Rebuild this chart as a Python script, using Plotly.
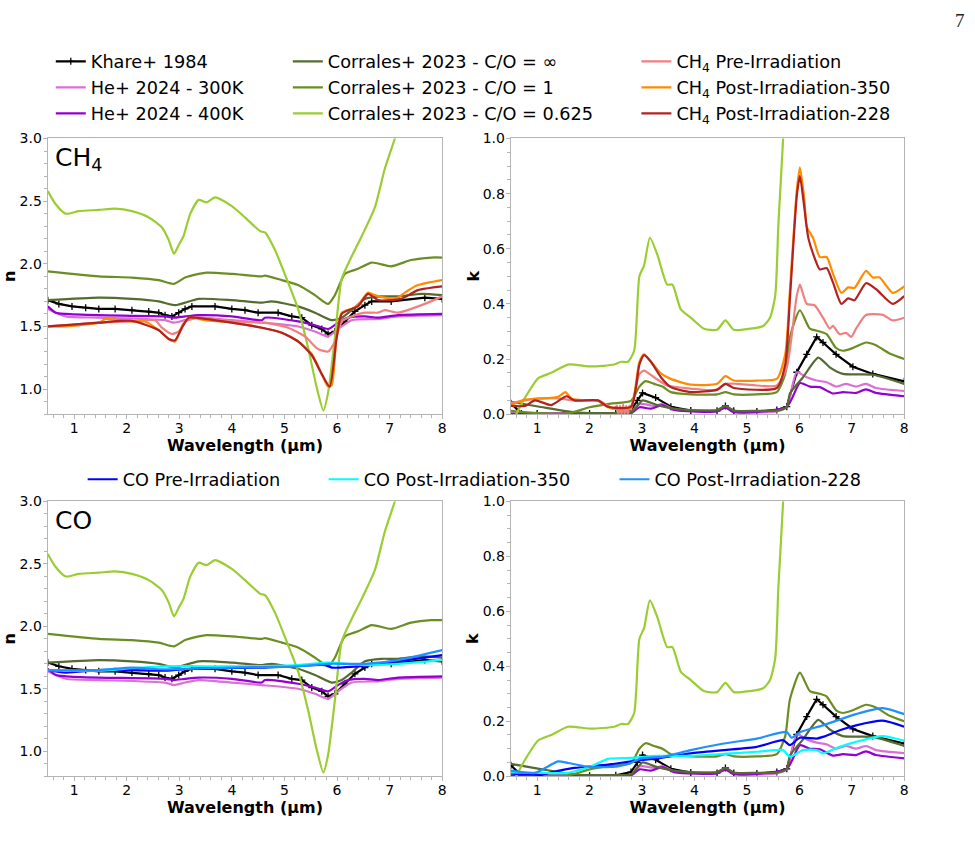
import plotly.graph_objects as go

# ---------------- data ----------------
# Khare+ 1984
khare_n_wl = [0.5,0.71,0.96,1.22,1.47,1.78,2.10,2.42,2.61,2.73,2.86,2.99,3.11,3.24,3.68,4.00,4.25,4.50,4.88,5.14,5.33,5.52,5.71,5.83,5.96,6.15,6.34,6.53,6.66,7.03,7.67,8.0]
khare_n = [1.71,1.68,1.66,1.65,1.64,1.64,1.63,1.62,1.61,1.59,1.58,1.61,1.64,1.66,1.66,1.64,1.63,1.61,1.61,1.58,1.57,1.51,1.48,1.44,1.46,1.54,1.62,1.67,1.70,1.70,1.73,1.72]
khare_k_wl = [0.5,0.7,1.0,1.5,2.0,2.5,2.79,2.91,3.01,3.26,3.55,3.93,4.43,4.59,4.75,5.19,5.57,5.76,5.95,6.14,6.33,6.45,6.70,7.02,7.40,8.0]
khare_k = [0.04,0.002,0.002,0.002,0.002,0.003,0.015,0.05,0.077,0.06,0.027,0.013,0.012,0.03,0.012,0.01,0.015,0.027,0.152,0.217,0.28,0.26,0.217,0.172,0.146,0.119]

# He+ 2024
he300_n_wl = [0.5,0.84,1.47,2.73,2.90,3.11,3.37,4.0,4.57,5.26,5.58,5.83,6.02,6.28,6.78,7.16,8.0]
he300_n = [1.64,1.58,1.57,1.55,1.53,1.55,1.57,1.55,1.53,1.50,1.46,1.42,1.48,1.55,1.56,1.58,1.59]
he400_n_wl = [0.5,0.65,0.84,1.47,2.73,2.90,3.11,3.37,4.0,4.57,4.63,5.26,5.58,5.83,6.02,6.21,6.53,6.78,7.16,8.0]
he400_n = [1.66,1.61,1.60,1.59,1.58,1.57,1.58,1.59,1.58,1.55,1.57,1.54,1.51,1.48,1.53,1.57,1.58,1.57,1.59,1.60]
he300_k_wl = [0.5,1.0,2.0,2.79,2.91,3.01,3.23,3.39,3.61,4.43,4.59,4.75,5.57,5.76,5.95,6.14,6.33,6.52,6.70,6.89,7.08,7.27,7.46,8.0]
he300_k = [0.003,0.003,0.003,0.005,0.033,0.037,0.03,0.037,0.018,0.013,0.027,0.01,0.01,0.027,0.152,0.134,0.122,0.116,0.10,0.11,0.10,0.11,0.095,0.084]
he400_k_wl = [0.5,1.0,2.0,2.79,2.95,3.17,3.39,3.61,4.43,4.59,4.75,5.76,6.01,6.20,6.39,6.64,6.83,7.08,7.27,7.46,8.0]
he400_k = [0.001,0.001,0.001,0.003,0.025,0.02,0.033,0.015,0.01,0.024,0.007,0.027,0.113,0.10,0.098,0.075,0.08,0.077,0.09,0.077,0.065]

# Corrales+ 2023
cinf_n_wl = [0.5,1.47,2.10,2.61,2.92,3.37,4.0,4.57,4.76,5.26,5.58,5.90,6.09,6.28,6.53,6.84,7.16,7.60,8.0]
cinf_n = [1.71,1.73,1.72,1.70,1.67,1.72,1.71,1.69,1.70,1.66,1.61,1.55,1.57,1.63,1.72,1.74,1.74,1.76,1.75]
c1_n_wl = [0.5,1.47,2.10,2.61,2.90,3.11,3.37,3.52,4.0,4.57,4.63,4.95,5.26,5.58,5.83,5.96,6.15,6.40,6.66,7.03,7.41,7.79,8.0]
c1_n = [1.94,1.90,1.89,1.87,1.84,1.89,1.92,1.93,1.92,1.90,1.905,1.87,1.83,1.75,1.68,1.75,1.92,1.96,2.01,1.98,2.03,2.05,2.05]
c0625_n_wl = [0.5,0.65,0.84,1.09,1.47,1.78,2.10,2.42,2.67,2.80,2.90,2.99,3.08,3.21,3.37,3.52,3.68,4.00,4.25,4.54,4.63,4.82,5.07,5.26,5.45,5.61,5.74,5.83,5.96,6.09,6.28,6.47,6.72,6.91,7.10,7.4,8.0]
c0625_n = [2.58,2.475,2.40,2.42,2.43,2.44,2.42,2.37,2.29,2.19,2.08,2.15,2.22,2.40,2.51,2.49,2.53,2.46,2.37,2.26,2.25,2.11,1.85,1.64,1.33,1.02,0.83,0.97,1.41,1.88,2.06,2.22,2.45,2.76,3.0,3.4,4.2]
cinf_k_wl = [0.5,1.07,1.64,2.0,2.5,2.79,2.91,3.01,3.29,3.61,3.93,4.43,4.59,4.75,5.19,5.57,5.76,5.82,6.07,6.36,6.58,6.83,7.40,8.0]
cinf_k = [0.045,0.026,0.008,0.004,0.004,0.006,0.03,0.05,0.033,0.02,0.015,0.015,0.03,0.013,0.012,0.013,0.025,0.075,0.134,0.205,0.17,0.146,0.143,0.11]
c1_k_wl = [0.5,1.0,1.6,2.0,2.4,2.79,2.95,3.07,3.23,3.39,3.55,3.93,4.43,4.59,4.75,5.19,5.57,5.73,5.82,6.01,6.20,6.39,6.52,6.70,6.83,7.02,7.27,7.46,7.72,8.0]
c1_k = [0.012,0.004,0.003,0.025,0.038,0.048,0.10,0.12,0.11,0.10,0.08,0.072,0.072,0.08,0.072,0.072,0.08,0.146,0.28,0.377,0.31,0.30,0.29,0.24,0.23,0.24,0.26,0.25,0.22,0.20]
c0625_k_wl = [0.6,0.77,1.02,1.27,1.59,2.03,2.47,2.60,2.73,2.85,2.95,3.04,3.15,3.29,3.48,3.58,3.74,3.93,4.18,4.43,4.59,4.75,5.06,5.31,5.44,5.54,5.60,5.69,5.8,6.0]
c0625_k = [0.0,0.06,0.13,0.15,0.18,0.173,0.18,0.19,0.19,0.23,0.50,0.54,0.64,0.58,0.47,0.47,0.38,0.35,0.31,0.306,0.34,0.306,0.31,0.32,0.35,0.43,0.69,1.0,1.6,2.5]

# CH4 (this work)
ch4pre_n_wl = [0.5,0.84,1.47,2.10,2.54,2.67,2.86,2.99,3.11,3.37,4.0,4.63,5.07,5.39,5.64,5.83,5.96,6.09,6.28,6.53,6.78,6.91,7.16,7.67,8.0]
ch4pre_n = [1.50,1.51,1.53,1.54,1.55,1.49,1.44,1.46,1.54,1.57,1.54,1.53,1.49,1.42,1.32,1.30,1.38,1.54,1.58,1.61,1.61,1.63,1.61,1.68,1.74]
ch4p350_n_wl = [0.5,0.84,1.47,1.60,2.10,2.35,2.61,2.80,2.92,3.05,3.18,3.49,4.0,4.57,4.95,5.26,5.52,5.71,5.83,5.90,5.99,6.09,6.28,6.40,6.59,6.72,6.91,7.16,7.29,7.54,8.0]
ch4p350_n = [1.50,1.50,1.53,1.56,1.54,1.54,1.47,1.40,1.38,1.49,1.57,1.55,1.53,1.49,1.45,1.38,1.28,1.12,1.02,1.03,1.41,1.61,1.64,1.67,1.77,1.75,1.73,1.73,1.77,1.83,1.87]
ch4p228_n_wl = [0.5,0.84,1.47,2.10,2.61,2.80,2.92,3.05,3.18,3.49,4.0,4.57,4.95,5.26,5.52,5.71,5.86,5.99,6.09,6.28,6.40,6.59,6.78,7.03,7.22,7.54,8.0]
ch4p228_n = [1.50,1.51,1.53,1.545,1.47,1.40,1.39,1.49,1.57,1.56,1.53,1.49,1.45,1.38,1.27,1.12,1.02,1.40,1.60,1.64,1.66,1.76,1.71,1.71,1.72,1.79,1.82]
ch4pre_k_wl = [0.5,0.77,1.02,1.4,1.71,2.16,2.47,2.52,2.55,2.58,2.61,2.64,2.67,2.70,2.73,2.76,2.79,2.95,3.04,3.23,3.48,3.93,4.43,4.59,4.81,5.19,5.57,5.76,5.95,6.01,6.14,6.29,6.45,6.58,6.64,6.77,6.89,6.99,7.08,7.27,7.59,7.78,8.0]
ch4pre_k = [0.04,0.05,0.057,0.057,0.05,0.05,0.02,0.03,0.0,0.03,0.0,0.035,0.0,0.03,0.0,0.03,0.015,0.146,0.158,0.134,0.104,0.093,0.087,0.11,0.11,0.104,0.104,0.17,0.43,0.47,0.40,0.395,0.35,0.31,0.32,0.29,0.295,0.28,0.31,0.36,0.36,0.34,0.35]
ch4p350_k_wl = [0.5,0.77,1.15,1.40,1.54,1.65,1.90,2.16,2.35,2.54,2.79,2.95,3.04,3.17,3.36,3.55,3.93,4.43,4.59,4.75,5.19,5.57,5.73,5.82,5.95,6.01,6.10,6.14,6.26,6.39,6.52,6.64,6.80,6.93,7.05,7.27,7.40,7.53,7.78,8.0]
ch4p350_k = [0.033,0.053,0.057,0.063,0.08,0.057,0.05,0.049,0.025,0.018,0.027,0.19,0.217,0.19,0.148,0.128,0.107,0.11,0.138,0.122,0.122,0.128,0.217,0.45,0.81,0.895,0.77,0.68,0.64,0.57,0.57,0.51,0.44,0.46,0.458,0.52,0.496,0.496,0.44,0.464]
ch4p228_k_wl = [0.5,0.77,0.96,1.27,1.56,1.71,2.16,2.35,2.79,2.95,3.04,3.17,3.36,3.55,3.93,4.43,4.59,4.75,5.57,5.73,5.82,5.95,6.01,6.10,6.17,6.29,6.39,6.52,6.64,6.80,6.93,7.05,7.27,7.46,7.78,8.0]
ch4p228_k = [0.03,0.03,0.05,0.033,0.065,0.05,0.05,0.027,0.027,0.18,0.214,0.19,0.134,0.098,0.08,0.089,0.11,0.095,0.095,0.18,0.42,0.79,0.864,0.74,0.64,0.567,0.525,0.53,0.478,0.40,0.42,0.413,0.475,0.454,0.40,0.428]

# CO (this work)
copre_n_wl = [0.5,0.84,1.47,2.10,2.73,3.37,4.63,5.77,5.9,6.53,7.16,8.0]
copre_n = [1.65,1.63,1.65,1.65,1.645,1.665,1.67,1.69,1.67,1.685,1.72,1.77]
cop350_n_wl = [0.5,1.47,2.10,2.73,4.0,5.26,5.83,6.53,7.16,8.0]
cop350_n = [1.65,1.645,1.665,1.68,1.68,1.69,1.71,1.69,1.70,1.73]
cop228_n_wl = [0.5,1.47,2.10,2.73,4.0,5.26,5.83,6.53,7.16,8.0]
cop228_n = [1.65,1.65,1.67,1.655,1.67,1.68,1.70,1.70,1.73,1.81]
copre_k_wl = [0.5,1.08,1.27,1.71,2.35,2.79,3.29,3.93,4.56,5.19,5.69,5.82,6.01,6.33,6.45,6.77,7.08,7.59,8.0]
copre_k = [0.01,0.005,0.014,0.03,0.042,0.054,0.065,0.083,0.095,0.107,0.131,0.113,0.14,0.137,0.143,0.167,0.185,0.202,0.18]
cop228_k_wl = [0.5,0.96,1.40,1.59,2.03,2.54,2.79,2.98,3.42,3.93,4.56,5.19,5.76,5.85,6.01,6.45,7.08,7.59,8.0]
cop228_k = [0.02,0.012,0.054,0.048,0.033,0.036,0.048,0.065,0.071,0.095,0.119,0.137,0.161,0.14,0.16,0.185,0.226,0.248,0.226]
cop350_k_wl = [0.5,1.08,1.59,2.03,2.35,2.79,3.29,3.93,4.56,5.19,5.69,5.82,6.07,6.33,6.45,6.77,7.08,7.59,8.0]
cop350_k = [0.014,0.012,0.012,0.036,0.063,0.067,0.074,0.074,0.081,0.089,0.095,0.071,0.095,0.095,0.083,0.107,0.125,0.146,0.129]

x_ticks = [1, 2, 3, 4, 5, 6, 7, 8]
n_ticks = [1.0, 1.5, 2.0, 2.5, 3.0]
k_ticks = [0.0, 0.2, 0.4, 0.6, 0.8, 1.0]

# ---------------- figure ----------------
W, H = 975, 846
fig = go.Figure()

LEG_FONT = dict(family="DejaVu Sans", size=17.7, color="black")

common = [
    ("Khare+ 1984", "black", (khare_n_wl, khare_n), (khare_k_wl, khare_k), "legend", True),
    ("He+ 2024 - 300K", "orchid", (he300_n_wl, he300_n), (he300_k_wl, he300_k), "legend", False),
    ("He+ 2024 - 400K", "darkviolet", (he400_n_wl, he400_n), (he400_k_wl, he400_k), "legend", False),
    ("Corrales+ 2023 - C/O = ∞", "darkolivegreen", (cinf_n_wl, cinf_n), (cinf_k_wl, cinf_k), "legend2", False),
    ("Corrales+ 2023 - C/O = 1", "olivedrab", (c1_n_wl, c1_n), (c1_k_wl, c1_k), "legend2", False),
    ("Corrales+ 2023 - C/O = 0.625", "yellowgreen", (c0625_n_wl, c0625_n), (c0625_k_wl, c0625_k), "legend2", False),
]
ch4 = [
    ("CH<sub>4</sub> Pre-Irradiation", "lightcoral", (ch4pre_n_wl, ch4pre_n), (ch4pre_k_wl, ch4pre_k), "legend3", False),
    ("CH<sub>4</sub> Post-Irradiation-350", "darkorange", (ch4p350_n_wl, ch4p350_n), (ch4p350_k_wl, ch4p350_k), "legend3", False),
    ("CH<sub>4</sub> Post-Irradiation-228", "firebrick", (ch4p228_n_wl, ch4p228_n), (ch4p228_k_wl, ch4p228_k), "legend3", False),
]
co = [
    ("CO Pre-Irradiation", "blue", (copre_n_wl, copre_n), (copre_k_wl, copre_k), "legend4", False),
    ("CO Post-Irradiation-350", "cyan", (cop350_n_wl, cop350_n), (cop350_k_wl, cop350_k), "legend5", False),
    ("CO Post-Irradiation-228", "dodgerblue", (cop228_n_wl, cop228_n), (cop228_k_wl, cop228_k), "legend6", False),
]


def add(series, xa, ya, which, show):
    name, color, nd, kd, leg, marker = series
    d = nd if which == "n" else kd
    kw = dict(
        x=d[0], y=d[1], name=name, legend=leg, legendgroup=name, showlegend=show,
        xaxis=xa, yaxis=ya, line=dict(color=color, width=2.2),
        hoverinfo="skip",
    )
    if marker:
        kw["mode"] = "lines+markers"
        kw["marker"] = dict(symbol="cross-thin", size=5, line=dict(color=color, width=1.3))
    else:
        kw["mode"] = "lines"
        kw["line"]["shape"] = "spline"
        kw["line"]["smoothing"] = 0.6
    fig.add_trace(go.Scatter(**kw))


for s in common + ch4:
    add(s, "x", "y", "n", True)
    add(s, "x2", "y2", "k", False)
for s in common + co:
    add(s, "x3", "y3", "n", s in co)
    add(s, "x4", "y4", "k", False)

# ---------------- axes ----------------
left_dom = [48 / W, 444 / W]
right_dom = [513 / W, 908 / W]
top_dom = [1 - 414 / H, 1 - 133 / H]
bot_dom = [1 - 783 / H, 1 - 503 / H]

TICK_FONT = dict(family="DejaVu Sans", size=14, color="black")
TITLE_FONT = dict(family="DejaVu Sans", size=16, color="black")
FRAME = "#b4b4b4"


def xaxis(dom, anchor):
    return dict(
        domain=dom, anchor=anchor, range=[0.5, 8], tickvals=x_ticks, ticks="outside",
        ticklen=4, tickwidth=1, tickcolor=FRAME, showline=True, linecolor=FRAME, linewidth=1.3,
        mirror=True, showgrid=False, zeroline=False, tickfont=TICK_FONT, ticklabelstandoff=-3,
        minor=dict(dtick=0.2, tick0=0, ticks="outside", ticklen=2.5, tickcolor=FRAME, showgrid=False),
        title=dict(text="<b>Wavelength (µm)</b>", font=TITLE_FONT, standoff=0),
    )


def yaxis(dom, anchor, kind):
    if kind == "n":
        rng, tv, mdt, title = [0.8, 3.0], n_ticks, 0.1, "<b>n</b>"
    else:
        rng, tv, mdt, title = [0.0, 1.0], k_ticks, 0.05, ""
    return dict(
        domain=dom, anchor=anchor, range=rng, tickvals=tv, tickformat=".1f", ticks="outside",
        ticklen=4, tickwidth=1, tickcolor=FRAME, showline=True, linecolor=FRAME, linewidth=1.3,
        mirror=True, showgrid=False, zeroline=False, tickfont=TICK_FONT, ticklabelstandoff=-2,
        minor=dict(dtick=mdt, tick0=0, ticks="outside", ticklen=2.5, tickcolor=FRAME, showgrid=False),
        title=dict(text=title, font=TITLE_FONT, standoff=5),
    )


def legend(x, y):
    return dict(x=x, y=y, xanchor="left", yanchor="top", orientation="v",
                bgcolor="rgba(0,0,0,0)", font=LEG_FONT, traceorder="grouped",
                tracegroupgap=0, itemwidth=30)


fig.update_layout(
    width=W, height=H, margin=dict(l=0, r=0, t=0, b=0),
    paper_bgcolor="white", plot_bgcolor="white",
    xaxis=xaxis(left_dom, "y"), yaxis=yaxis(top_dom, "x", "n"),
    xaxis2=xaxis(right_dom, "y2"), yaxis2=yaxis(top_dom, "x2", "k"),
    xaxis3=xaxis(left_dom, "y3"), yaxis3=yaxis(bot_dom, "x3", "n"),
    xaxis4=xaxis(right_dom, "y4"), yaxis4=yaxis(bot_dom, "x4", "k"),
    legend=legend(51 / W, 1 - 36 / H),
    legend2=legend(289 / W, 1 - 36 / H),
    legend3=legend(639 / W, 1 - 36 / H),
    legend4=legend(83 / W, 1 - 462 / H),
    legend5=legend(325 / W, 1 - 462 / H),
    legend6=legend(617 / W, 1 - 462 / H),
    showlegend=True,
)

# k-axis titles (placed next to the right-hand panels)
for yd in ("y2 domain", "y4 domain"):
    fig.add_annotation(text="<b>k</b>", xref="paper", yref=yd, x=475 / W, y=0.5,
                       xanchor="center", yanchor="middle", textangle=-90, showarrow=False,
                       font=TITLE_FONT)

fig.add_annotation(text="CH<sub>4</sub>", xref="x domain", yref="y domain", x=0.012, y=0.99,
                   xanchor="left", yanchor="top", showarrow=False,
                   font=dict(family="DejaVu Sans", size=25, color="black"))
fig.add_annotation(text="CO", xref="x3 domain", yref="y3 domain", x=0.012, y=0.99,
                   xanchor="left", yanchor="top", showarrow=False,
                   font=dict(family="DejaVu Sans", size=25, color="black"))
fig.add_annotation(text="7", xref="paper", yref="paper", x=964 / W, y=1 - 13 / H,
                   xanchor="center", yanchor="middle", showarrow=False,
                   font=dict(family="Liberation Serif", size=19, color="#222"))

fig.write_html("out.html")
